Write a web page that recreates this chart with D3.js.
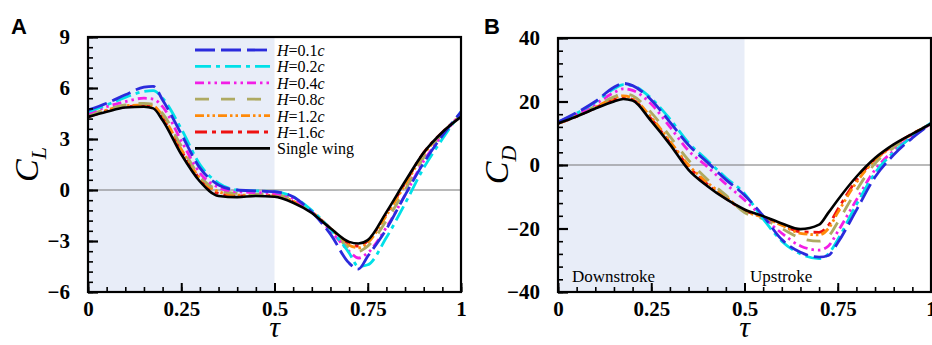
<!DOCTYPE html>
<html>
<head>
<meta charset="utf-8">
<script src="https://cdn.jsdelivr.net/npm/d3@7"></script>
<style>
  body { margin: 0; background: #fff; }
  svg { display: block; }
  text { font-family: 'Liberation Serif', 'Times New Roman', Times, 'DejaVu Serif', serif; }
  text.letter { font-family: 'Liberation Sans', Arial, sans-serif; }
</style>
</head>
<body>
<div id="chart"></div>
<script>
// phase of the stroke
const tau = [0, 0.05, 0.1, 0.15, 0.175, 0.2, 0.25, 0.3, 0.35, 0.4, 0.45, 0.5, 0.55, 0.6, 0.65, 0.7, 0.725, 0.75, 0.8, 0.85, 0.9, 0.95, 1];

const seriesNames = ['H=0.1c', 'H=0.2c', 'H=0.4c', 'H=0.8c', 'H=1.2c', 'H=1.6c', 'Single wing'];

// lift coefficient
const clH01 = [4.7, 5.1, 5.6, 6.05, 6.1, 5.3, 3.3, 1.3, 0.3, 0.0, -0.05, -0.1, -0.4, -1.3, -2.6, -4.3, -4.65, -3.9, -2.3, -0.3, 1.6, 3.2, 4.6];
const clH02 = [4.6, 5.0, 5.45, 5.8, 5.85, 5.4, 3.6, 1.5, 0.4, 0.0, -0.05, -0.1, -0.4, -1.2, -2.3, -3.7, -4.5, -4.4, -2.8, -0.8, 1.3, 3.0, 4.6];
const clH04 = [4.5, 4.9, 5.2, 5.4, 5.35, 4.9, 2.9, 1.0, 0.15, -0.1, -0.15, -0.2, -0.5, -1.3, -2.4, -3.6, -4.0, -3.7, -2.2, -0.3, 1.7, 3.2, 4.5];
const clH08 = [4.4, 4.75, 5.0, 5.1, 5.05, 4.5, 2.6, 0.8, 0.0, -0.2, -0.25, -0.25, -0.6, -1.3, -2.3, -3.4, -3.6, -3.3, -1.8, 0.0, 1.9, 3.3, 4.4];
const clH12 = [4.35, 4.7, 4.95, 5.0, 4.95, 4.35, 2.4, 0.7, -0.1, -0.3, -0.3, -0.3, -0.65, -1.3, -2.25, -3.25, -3.4, -3.1, -1.5, 0.3, 2.1, 3.35, 4.4];
const clH16 = [4.3, 4.65, 4.9, 4.95, 4.9, 4.25, 2.3, 0.65, -0.2, -0.35, -0.3, -0.35, -0.7, -1.3, -2.25, -3.15, -3.3, -3.0, -1.4, 0.4, 2.2, 3.4, 4.35];
const clSingle = [4.3, 4.6, 4.85, 4.9, 4.8, 4.1, 2.1, 0.5, -0.35, -0.42, -0.35, -0.4, -0.75, -1.35, -2.25, -3.05, -3.15, -2.95, -1.3, 0.5, 2.2, 3.4, 4.3];

// drag coefficient
const cdH01 = [13.5, 16.5, 20, 24.5, 25.7, 25.0, 20.5, 13.5, 6.3, 0.9, -4.6, -9.5, -16, -23.5, -27.5, -29.0, -28.5, -24.5, -14.2, -3.8, 3.2, 8.5, 13];
const cdH02 = [13.5, 16.3, 19.8, 24, 25.3, 25, 21, 14.5, 7, 1.5, -4, -9, -17, -24, -28, -29.5, -28, -23.5, -12.5, -2.5, 4, 9, 13.3];
const cdH04 = [13.3, 16, 19.2, 22.8, 24, 23.5, 19.2, 12, 4.5, -0.5, -6, -11, -16.5, -21.5, -25.5, -26.8, -25.5, -21, -11, -1.5, 4.5, 9, 13];
const cdH08 = [13.2, 15.6, 18.5, 21.5, 22.5, 21.8, 16.5, 9, 1.5, -4.5, -9.5, -15, -17, -20, -23, -24, -22.5, -18, -8, 0.5, 5.5, 9.5, 13];
const cdH12 = [13.1, 15.4, 18.2, 21, 21.8, 21, 15, 7.5, 0, -5.5, -10, -14.5, -16.5, -19, -21.5, -22, -20, -15, -5.5, 1.5, 6, 9.7, 13];
const cdH16 = [13.1, 15.3, 18, 20.6, 21.3, 20.6, 14.5, 7, -0.5, -6, -10.5, -14.3, -16.3, -18.8, -21, -21.2, -19, -14, -4.8, 1.8, 6.2, 9.8, 13];
const cdSingle = [13.1, 15.3, 17.8, 20.0, 20.8, 20.3, 13.8, 6.5, -1.5, -6.6, -10.7, -14.0, -16.1, -18.4, -20.2, -18.8, -15.0, -11.0, -3.7, 2.2, 6.5, 9.8, 13];

const clTicks = [-6, -3, 0, 3, 6, 9];
const cdTicks = [-40, -20, 0, 20, 40];
const tauTicks = [0, 0.25, 0.5, 0.75, 1];
const tauTickLabels = ['0', '0.25', '0.5', '0.75', '1'];

const colors = ['#2b2bdc', '#00e0e8', '#f21ee6', '#aeaa62', '#ff8a0a', '#ee1111', '#000000'];
const dashes = ['20,6', '16,5,4,5', '9,4,2.5,4,2.5,4', '14,12', '9,3,2.5,3,2.5,3', '12,5,4,5', null];

const W = 932, H = 345;
const svg = d3.select('#chart').append('svg').attr('width', W).attr('height', H);

function drawPanel(opt) {
  const x = d3.scaleLinear().domain([0, 1]).range([opt.left, opt.left + 373]);
  const y = d3.scaleLinear().domain(opt.yDomain).range([292, opt.top]);
  const g = svg.append('g');

  // downstroke shading
  g.append('rect')
    .attr('x', x(0)).attr('y', y(opt.yDomain[1]))
    .attr('width', x(0.5) - x(0)).attr('height', y(opt.yDomain[0]) - y(opt.yDomain[1]))
    .attr('fill', '#e8edf8');

  // zero line
  g.append('line')
    .attr('x1', x(0)).attr('x2', x(1)).attr('y1', y(0)).attr('y2', y(0))
    .attr('stroke', '#777').attr('stroke-width', 1.2);

  const clipId = 'clip' + opt.name;
  svg.append('clipPath').attr('id', clipId).append('rect')
    .attr('x', x(0)).attr('y', y(opt.yDomain[1]))
    .attr('width', x(1) - x(0)).attr('height', y(opt.yDomain[0]) - y(opt.yDomain[1]));

  const line = d3.line()
    .x((d, i) => x(tau[i]))
    .y(d => y(d))
    .curve(d3.curveMonotoneX);

  // draw single wing last so it sits on top
  const order = [5, 4, 3, 2, 1, 0, 6];
  g.append('g').attr('clip-path', 'url(#' + clipId + ')')
    .selectAll('path')
    .data(order)
    .enter()
    .append('path')
    .attr('d', k => line(opt.series[k]))
    .attr('fill', 'none')
    .attr('stroke', k => colors[k])
    .attr('stroke-width', k => k === 6 ? 2.6 : 2.8)
    .attr('stroke-dasharray', k => dashes[k]);

  // frame
  g.append('rect')
    .attr('x', x(0)).attr('y', y(opt.yDomain[1]))
    .attr('width', x(1) - x(0)).attr('height', y(opt.yDomain[0]) - y(opt.yDomain[1]))
    .attr('fill', 'none').attr('stroke', '#000').attr('stroke-width', 2.2);

  // bottom axis
  const xAxis = g.append('g').attr('transform', 'translate(0,' + y(opt.yDomain[0]) + ')');
  xAxis.call(d3.axisBottom(x).tickValues(d3.range(0, 1.0001, 0.05)).tickSize(-5).tickFormat(''));
  xAxis.call(gg => gg.select('.domain').remove());
  xAxis.selectAll('.tick line').attr('stroke-width', 1.6);
  const xMaj = g.append('g').attr('transform', 'translate(0,' + y(opt.yDomain[0]) + ')');
  xMaj.call(d3.axisBottom(x).tickValues(tauTicks).tickSize(-9).tickPadding(9)
    .tickFormat((d, i) => tauTickLabels[i]));
  xMaj.call(gg => gg.select('.domain').remove());
  xMaj.attr('font-family', null);
  xMaj.selectAll('.tick line').attr('stroke-width', 2);
  xMaj.selectAll('.tick text')
    .attr('font-weight', 'bold').attr('font-size', 21).attr('fill', '#000');

  // left axis
  const step = (opt.yTicks[1] - opt.yTicks[0]) / 5;
  const minor = d3.range(opt.yDomain[0], opt.yDomain[1] + step / 2, step);
  const yAxis = g.append('g').attr('transform', 'translate(' + x(0) + ',0)');
  yAxis.call(d3.axisLeft(y).tickValues(minor).tickSize(-5).tickFormat(''));
  yAxis.call(gg => gg.select('.domain').remove());
  yAxis.selectAll('.tick line').attr('stroke-width', 1.6);
  const yMaj = g.append('g').attr('transform', 'translate(' + x(0) + ',0)');
  yMaj.call(d3.axisLeft(y).tickValues(opt.yTicks).tickSize(-10).tickPadding(18));
  yMaj.call(gg => gg.select('.domain').remove());
  yMaj.attr('font-family', null);
  yMaj.selectAll('.tick line').attr('stroke-width', 2.2);
  yMaj.selectAll('.tick text')
    .attr('font-weight', 'bold').attr('font-size', 21).attr('fill', '#000');

  // axis titles
  const yt = g.append('text')
    .attr('transform', 'translate(' + (opt.left - 50) + ',' + ((292 + opt.top) / 2) + ') rotate(-90)')
    .attr('text-anchor', 'middle')
    .attr('font-style', 'italic').attr('font-size', 34);
  yt.append('tspan').text('C');
  yt.append('tspan').attr('font-size', 22).attr('dy', 8).text(opt.sub);

  g.append('text')
    .attr('x', x(0.5)).attr('y', 337)
    .attr('text-anchor', 'middle')
    .attr('font-style', 'italic').attr('font-size', 30)
    .text('τ');

  // panel letter
  g.append('text')
    .attr('class', 'letter')
    .attr('x', opt.letterX).attr('y', 34)
    .attr('font-weight', 'bold').attr('font-size', 22)
    .text(opt.name);

  return { x, y, g };
}

const pA = drawPanel({
  name: 'A', left: 88, top: 37, yDomain: [-6, 9], yTicks: clTicks, sub: 'L', letterX: 11,
  series: [clH01, clH02, clH04, clH08, clH12, clH16, clSingle]
});

const pB = drawPanel({
  name: 'B', left: 558, top: 38, yDomain: [-40, 40], yTicks: cdTicks, sub: 'D', letterX: 484,
  series: [cdH01, cdH02, cdH04, cdH08, cdH12, cdH16, cdSingle]
});

// stroke labels
pB.g.append('text').attr('x', 572).attr('y', 282).attr('font-size', 17).text('Downstroke');
pB.g.append('text').attr('x', 750).attr('y', 282).attr('font-size', 17).text('Upstroke');

// legend
const legend = pA.g.append('g')
  .selectAll('g')
  .data(seriesNames)
  .enter()
  .append('g')
  .attr('transform', (d, i) => 'translate(0,' + (50 + i * 16.4) + ')');

legend.append('line')
  .attr('x1', 195).attr('x2', 270)
  .attr('stroke', (d, i) => colors[i])
  .attr('stroke-width', 2.8)
  .attr('stroke-dasharray', (d, i) => dashes[i]);

legend.each(function (d) {
  const t = d3.select(this).append('text').attr('x', 277).attr('y', 6).attr('font-size', 16);
  if (d.startsWith('H=')) {
    t.append('tspan').attr('font-style', 'italic').text('H');
    t.append('tspan').text('=' + d.slice(2, -1));
    t.append('tspan').attr('font-style', 'italic').text('c');
  } else {
    t.text(d);
  }
});
</script>
</body>
</html>
